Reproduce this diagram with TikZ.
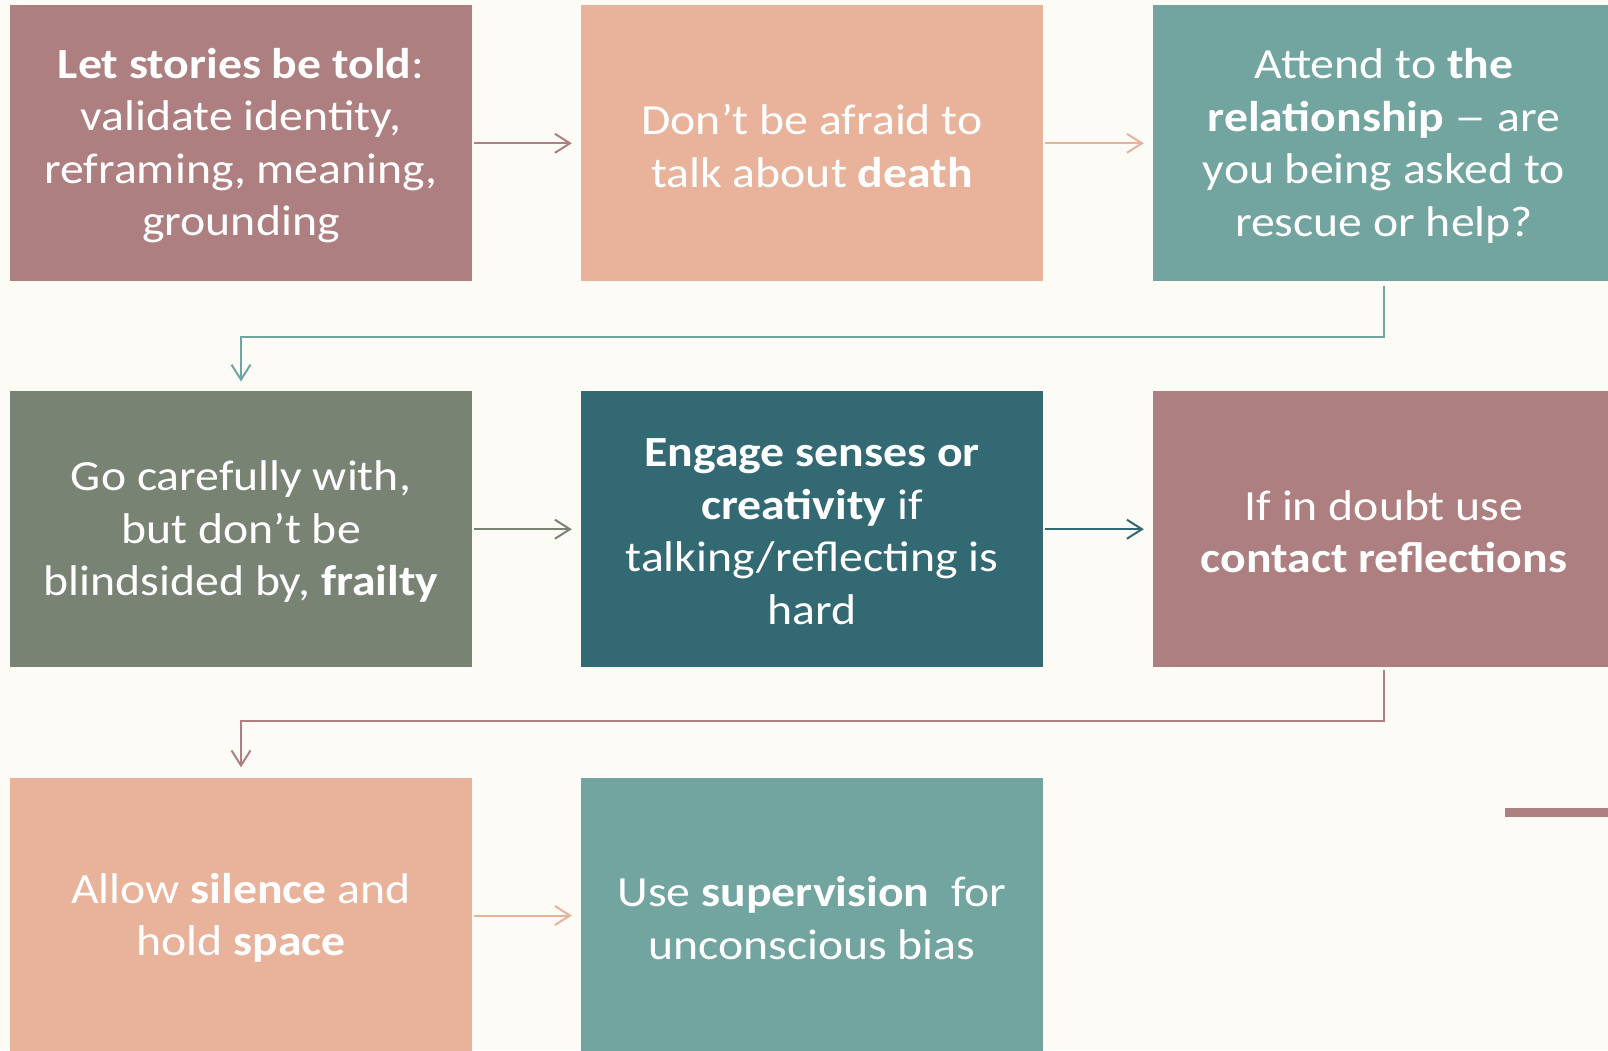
\documentclass[tikz,border=0pt]{standalone}
\usepackage{fontspec}
\setmainfont{Carlito}[FakeStretch=1.11]
\usetikzlibrary{arrows.meta}

\definecolor{bgcream}{RGB}{252,251,246}
\definecolor{mauve}{RGB}{174,127,128}
\definecolor{peach}{RGB}{232,178,155}
\definecolor{tealL}{RGB}{114,165,160}
\definecolor{sage}{RGB}{120,131,116}
\definecolor{tealD}{RGB}{51,105,114}

% a wide dash, as the slide font draws it
\newcommand{\widedash}{\scalebox{1.35}[1]{–}}

\tikzset{
  card/.style={rectangle, inner sep=0pt, minimum width=462pt, minimum height=276pt},
  cardtext/.style={inner sep=0pt, align=center, text=white,
    font=\fontsize{43pt}{52.5pt}\selectfont},
  conn/.style={line width=2pt, -{Straight Barb[length=15pt,width=19pt,line width=2pt]},
    shorten <=2pt, shorten >=9pt},
}

\begin{document}
\begin{tikzpicture}[x=1pt,y=1pt]
  % page and background
  \fill[bgcream] (0,0) rectangle (1608,-1050);
  \useasboundingbox (0,0) rectangle (1608,-1050);
  \clip (0,0) rectangle (1608,-1050);

  % coloured cards
  \node[card, fill=mauve] (b1) at (241,-143.3) {};
  \node[card, fill=peach] (b2) at (812,-143.3) {};
  \node[card, fill=tealL] (b3) at (1384,-143.3) {};
  \node[card, fill=sage]  (b4) at (241,-529.2) {};
  \node[card, fill=tealD] (b5) at (812,-529.2) {};
  \node[card, fill=mauve] (b6) at (1384,-529.2) {};
  \node[card, fill=peach] (b7) at (241,-915.5) {};
  \node[card, fill=tealL] (b8) at (812,-915.5) {};

  % card texts, set a little below each card's centre
  \node[cardtext] (t1) at ([yshift=-2.5pt]b1.center)
    {\textbf{Let stories be told}:\\validate identity,\\reframing, meaning,\\grounding};
  \node[cardtext] (t2) at ([yshift=-2.5pt]b2.center)
    {Don’t be afraid to\\talk about \textbf{death}};
  \node[cardtext] (t3) at ([yshift=-2.5pt]b3.center)
    {Attend to \textbf{the}\\\textbf{relationship} \widedash{} are\\you being asked to\\rescue or help?};
  \node[cardtext] (t4) at ([yshift=-2.5pt]b4.center)
    {Go carefully with,\\but don’t be\\blindsided by, \textbf{frailty}};
  \node[cardtext] (t5) at ([yshift=-2.5pt]b5.center)
    {\textbf{Engage senses or}\\\textbf{creativity} if\\talking/reflecting is\\hard};
  \node[cardtext] (t6) at ([yshift=-2.5pt]b6.center)
    {If in doubt use\\\textbf{contact reflections}};
  \node[cardtext] (t7) at ([yshift=-2.5pt]b7.center)
    {Allow \textbf{silence} and\\hold \textbf{space}};
  \node[cardtext] (t8) at ([yshift=-2.5pt]b8.center)
    {Use \textbf{supervision}\ \ for\\unconscious bias};

  % connectors within rows
  \draw[conn, mauve] (b1.east) -- (b2.west);
  \draw[conn, peach] (b2.east) -- (b3.west);
  \draw[conn, sage]  (b4.east) -- (b5.west);
  \draw[conn, tealD] (b5.east) -- (b6.west);
  \draw[conn, peach] (b7.east) -- (b8.west);

  % connectors wrapping to the next row
  \draw[conn, tealL, shorten <=4pt, shorten >=9.5pt]
    (b3.south) -- ++(0,-55) -| (b4.north);
  \draw[conn, mauve, shorten <=2.5pt, shorten >=10pt]
    (b6.south) -- ++(0,-54) -| (b7.north);

  % short bar at the right edge
  \coordinate (barL) at (1505,-812.3);
  \coordinate (barR) at (1620,-812.3);
  \draw[mauve, line width=8.5pt] (barL) -- (barR);
\end{tikzpicture}
\end{document}
